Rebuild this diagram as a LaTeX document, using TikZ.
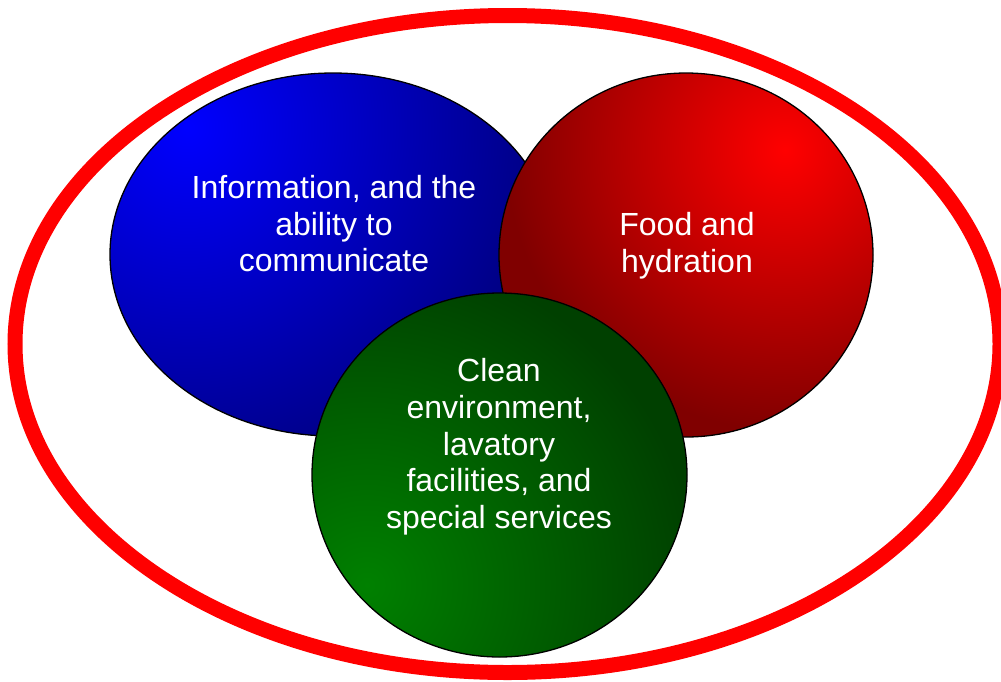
\documentclass[tikz,border=0pt]{standalone}
\usepackage{fontspec}
\setmainfont{Liberation Sans}
\definecolor{bBright}{RGB}{0,0,255}
\definecolor{bDark}{RGB}{0,0,128}
\definecolor{rBright}{RGB}{255,0,0}
\definecolor{rDark}{RGB}{128,0,0}
\definecolor{gBright}{RGB}{0,128,0}
\definecolor{gDark}{RGB}{0,64,0}
\definecolor{ringRed}{RGB}{255,0,0}
\pgfdeclareradialshading{blueshade}{\pgfpoint{0bp}{0bp}}{color(0bp)=(bBright); color(25bp)=(bDark); color(50bp)=(bDark)}
\pgfdeclareradialshading{redshade}{\pgfpoint{0bp}{0bp}}{color(0bp)=(rBright); color(25bp)=(rDark); color(50bp)=(rDark)}
\pgfdeclareradialshading{greenshade}{\pgfpoint{0bp}{0bp}}{color(0bp)=(gBright); color(25bp)=(gDark); color(50bp)=(gDark)}
\tikzset{
  outline/.style={draw=black, line width=1.3pt},
  label/.style={text=white, inner sep=0pt, align=center,
    font=\fontsize{32}{36.7}\selectfont}
}
\begin{document}
\begin{tikzpicture}[x=1pt,y=-1pt]
\useasboundingbox (0,0) rectangle (1001,681);
% outer ring
\draw[ringRed, line width=15pt] (507.5,344) ellipse [x radius=492.5pt, y radius=328.5pt];
% blue
\begin{scope}
  \clip (333,254.5) ellipse [x radius=223pt, y radius=181.5pt];
  \fill[bDark] (110,73) rectangle (556,436);
  \shade[shading=blueshade] (-183,-243) rectangle (557,497);
\end{scope}
\draw[outline] (333,254.5) ellipse [x radius=223pt, y radius=181.5pt];
% red
\begin{scope}
  \clip (686,255) ellipse [x radius=187pt, y radius=182pt];
  \fill[rDark] (499,73) rectangle (873,437);
  \shade[shading=redshade] (505,-130) rectangle (1065,430);
\end{scope}
\draw[outline] (686,255) ellipse [x radius=187pt, y radius=182pt];
% green
\begin{scope}
  \clip (499.5,475) ellipse [x radius=187.5pt, y radius=182pt];
  \fill[gDark] (312,293) rectangle (687,657);
  \shade[shading=greenshade] (37,255) rectangle (697,915);
\end{scope}
\draw[outline] (499.5,475) ellipse [x radius=187.5pt, y radius=182pt];
% texts
\node[label] (info) at (334,223.7) {Information, and the\\ability to\\communicate};
\node[label] (food) at (687,246) {Food and\\hydration};
\node[label] (clean) at (499,447) {Clean\\environment,\\lavatory\\facilities, and\\special services};
\end{tikzpicture}
\end{document}
